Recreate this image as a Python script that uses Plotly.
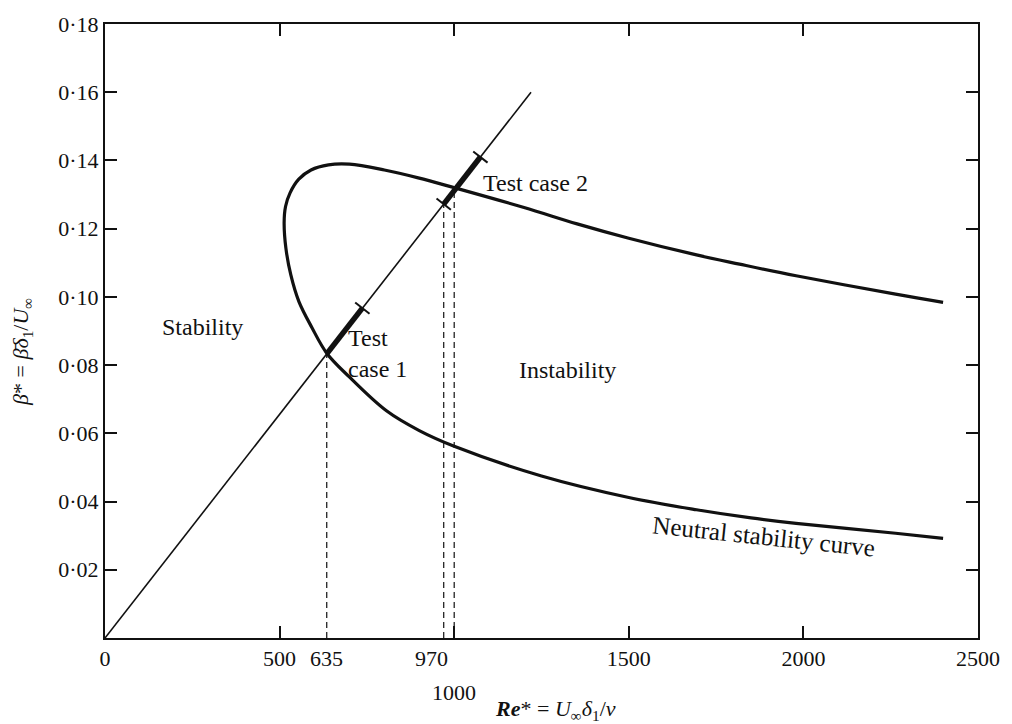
import plotly.graph_objects as go

# Neutral stability curve, traced from the far end of the lower branch,
# round the nose and out along the upper branch.
neutral_re = [2400, 2264, 1979, 1850, 1694, 1500, 1250, 1000, 900, 806, 698, 635,
              592, 555, 532, 518, 513, 517, 530, 555, 590, 640, 700, 800, 897, 1004,
              1200, 1352, 1500, 1694, 1817, 1979, 2264, 2400]
neutral_beta = [0.0292, 0.0307, 0.0336, 0.0352, 0.0376, 0.0412, 0.0475, 0.0562, 0.0608,
                0.0666, 0.0767, 0.0835, 0.0911, 0.0987, 0.1065, 0.1143, 0.1218, 0.1265,
                0.1305, 0.1345, 0.1372, 0.1387, 0.1389, 0.1372, 0.1349, 0.1319, 0.1262,
                0.1214, 0.1172, 0.1123, 0.1096, 0.1062, 0.1008, 0.0984]

# Ray of constant beta*/Re* through the origin
ray_re = [0, 1220]
ray_beta = [0, 0.160]

# Test-case ranges along the ray
case1_re = [635, 737]
case1_beta = [0.0833, 0.0967]
case2_re = [970, 1075]
case2_beta = [0.1272, 0.1410]

# Vertical drop lines to the Re* axis
drop_re = [635, 970, 1000]
drop_beta = [0.0833, 0.1272, 0.1315]

x_ticks = [0, 500, 1000, 1500, 2000, 2500]
x_ticktext = ["0", "500", "", "1500", "2000", "2500"]
y_ticks = [0.02, 0.04, 0.06, 0.08, 0.10, 0.12, 0.14, 0.16, 0.18]
y_ticktext = ["0·02", "0·04", "0·06", "0·08", "0·10", "0·12", "0·14", "0·16", "0·18"]

FONT = "Liberation Serif"
INK = "#111111"

fig = go.Figure()

for xr, yb in zip(drop_re, drop_beta):
    fig.add_trace(go.Scatter(x=[xr, xr], y=[0, yb], mode="lines",
                             line=dict(color=INK, width=1.2, dash="6px,4px"),
                             hoverinfo="skip"))

fig.add_trace(go.Scatter(x=ray_re, y=ray_beta, mode="lines",
                         line=dict(color=INK, width=1.6), hoverinfo="skip"))

fig.add_trace(go.Scatter(x=neutral_re, y=neutral_beta, mode="lines",
                         line=dict(color=INK, width=3.2, shape="spline", smoothing=1.0),
                         hoverinfo="skip"))

for xs, ys in ((case1_re, case1_beta), (case2_re, case2_beta)):
    fig.add_trace(go.Scatter(x=xs, y=ys, mode="lines",
                             line=dict(color=INK, width=5.5), hoverinfo="skip"))

# Cross-bars marking the ends of the test ranges
fig.add_trace(go.Scatter(x=[case1_re[1], case2_re[0], case2_re[1]],
                         y=[case1_beta[1], case2_beta[0], case2_beta[1]],
                         mode="markers",
                         marker=dict(symbol="line-ew", size=13, angle=38,
                                     line=dict(color=INK, width=2)),
                         hoverinfo="skip"))

ann_font = dict(family=FONT, size=24, color=INK)
lbl_font = dict(family=FONT, size=22, color=INK)
annotations = [
    dict(x=279, y=0.0911, text="Stability", showarrow=False, font=ann_font),
    dict(x=689, y=0.0833, text="Test<br>case 1", showarrow=False, font=ann_font,
         xanchor="left", align="left"),
    dict(x=1076, y=0.1334, text="Test case 2", showarrow=False, font=ann_font,
         xanchor="left"),
    dict(x=1324, y=0.0785, text="Instability", showarrow=False, font=ann_font),
    dict(x=1888, y=0.0297, text="Neutral stability curve", showarrow=False,
         font=dict(family=FONT, size=25, color=INK), textangle=6),
    # extra Re* labels under the axis
    dict(x=635, y=0, text="635", showarrow=False, yanchor="top", yshift=-6,
         font=lbl_font),
    dict(x=970, y=0, text="970", showarrow=False, yanchor="top", yshift=-6,
         xshift=-12, font=lbl_font),
    dict(x=1000, y=0, text="1000", showarrow=False, yanchor="top", yshift=-40,
         font=lbl_font),
    # axis titles
    dict(x=0.516, y=-0.117, xref="paper", yref="paper", showarrow=False,
         xanchor="center", yanchor="middle",
         text="<b><i>Re</i></b>* = <i>U</i><sub>∞</sub><i>δ</i><sub>1</sub>/<i>ν</i>",
         font=lbl_font),
    dict(x=-0.095, y=0.466, xref="paper", yref="paper", showarrow=False, textangle=-90,
         xanchor="center", yanchor="middle",
         text="<i>β</i>* = <i>β̄δ</i><sub>1</sub>/<i>U</i><sub>∞</sub>",
         font=lbl_font),
]

axis_common = dict(showgrid=False, zeroline=False, showline=True, linecolor=INK,
                   linewidth=2, mirror="ticks", ticks="inside", ticklen=12,
                   tickwidth=2, tickcolor=INK,
                   tickfont=lbl_font)

fig.update_layout(
    width=1012, height=724,
    margin=dict(l=105, r=29, t=16, b=86),
    paper_bgcolor="white", plot_bgcolor="white",
    showlegend=False,
    xaxis=dict(range=[0, 2500], tickvals=x_ticks, ticktext=x_ticktext, **axis_common),
    yaxis=dict(range=[0, 0.18], tickvals=y_ticks, ticktext=y_ticktext, **axis_common),
    annotations=annotations,
)

fig.write_html("out.html")
